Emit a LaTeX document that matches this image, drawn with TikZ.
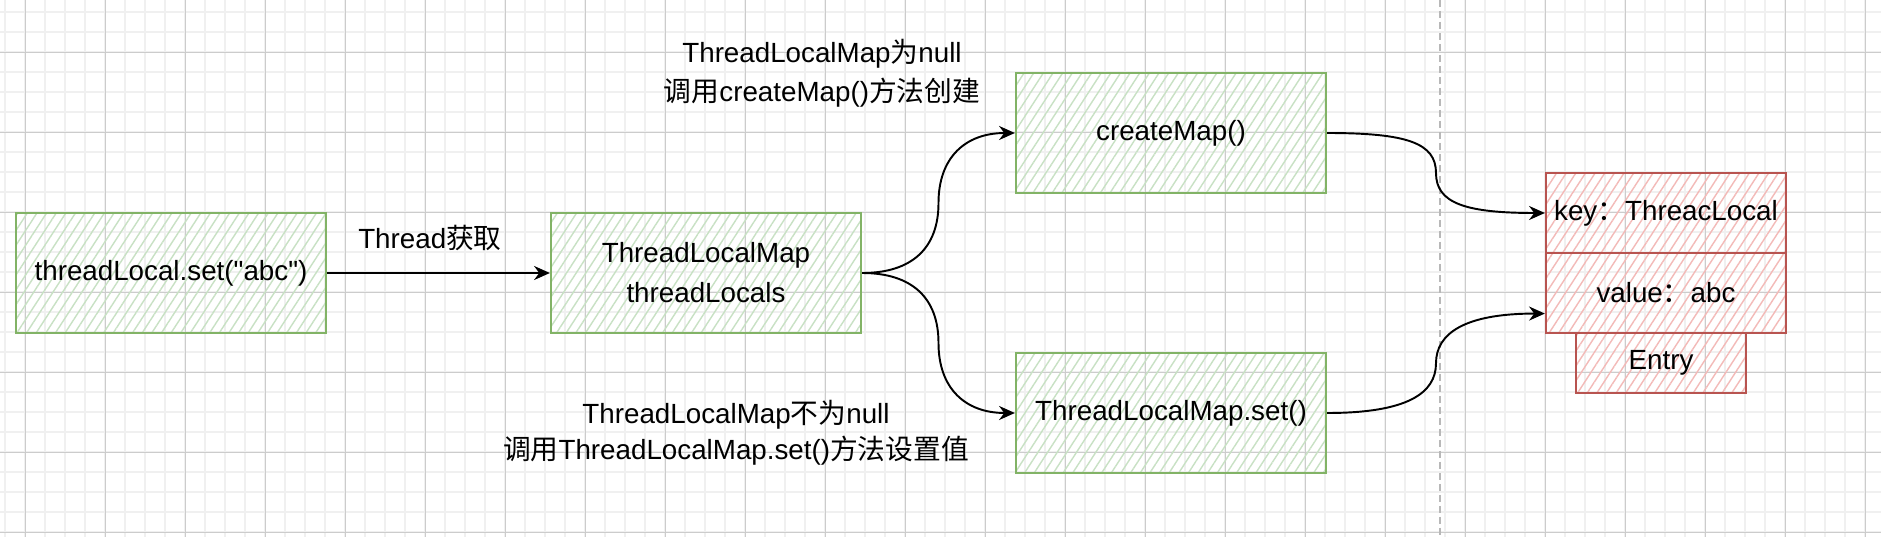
\documentclass[tikz,border=0pt]{standalone}
\usepackage{fontspec}
\setmainfont{Liberation Sans}
\newfontfamily\cjk{Noto Sans CJK SC}
\usetikzlibrary{arrows.meta,calc,patterns.meta}
\definecolor{greenline}{HTML}{82B366}
\definecolor{greenhatch}{HTML}{C8E1C4}
\definecolor{redline}{HTML}{B85450}
\definecolor{redhatch}{HTML}{F3BAB8}

\begin{document}
\begin{tikzpicture}[>={Stealth[length=9pt,width=8pt]},font=\fontsize{15.8pt}{19.3pt}\selectfont,x=0.02cm,y=-0.02cm,
 gbox/.style={draw=greenline,line width=1.3pt,align=center,inner sep=0pt,
  pattern={Lines[angle=57,distance=4.6pt,line width=0.8pt]},pattern color=greenhatch,
  minimum width=6.2cm,minimum height=2.4cm},
 rbox/.style={draw=redline,line width=1.3pt,align=center,inner sep=0pt,
  pattern={Lines[angle=57,distance=4.6pt,line width=0.8pt]},pattern color=redhatch,
  minimum width=4.8cm,minimum height=1.6cm},
 lab/.style={align=center,inner sep=1pt},
 minorgrid/.style={line width=0.85pt,black!6},
 majorgrid/.style={line width=0.5pt,black!20},
 link/.style={->,line width=1.1pt}]
\useasboundingbox (0,0) rectangle (1881,537);
\fill[white] (0,0) rectangle (1881,537);
% grid
\foreach \gx in {5,25,...,1881} \draw[minorgrid] (\gx,0) -- (\gx,537);
\foreach \gy in {12,32,...,537} \draw[minorgrid] (0,\gy) -- (1881,\gy);
\foreach \gx in {25,105,...,1881} \draw[majorgrid] (\gx,0) -- (\gx,537);
\foreach \gy in {52,132,...,537} \draw[majorgrid] (0,\gy) -- (1881,\gy);
\draw[line width=1.1pt,black!28,dash pattern=on 0.14cm off 0.08cm] (1440,0) -- (1440,537);
% boxes
\node[gbox] (setcall) at (171,273) {threadLocal.set(\textquotedbl abc\textquotedbl)};
\node[gbox] (tlm) at (706,273) {ThreadLocalMap\\[0.12cm]threadLocals};
\node[gbox] (cmap) at (1171,133) {createMap()};
\node[gbox] (tlmset) at (1171,413) {ThreadLocalMap.set()};
\node[rbox] (key) at (1666,213) {key{\cjk ：}ThreacLocal};
\node[rbox] (val) at (1666,293) {value{\cjk ：}abc};
\node[rbox,minimum width=3.4cm,minimum height=1.2cm] (entry) at (1661,363) {Entry};
% labels
\node[lab] (getlab) at (430,238) {Thread{\cjk 获取}};
\node[lab] (nulllab) at (822,73) {ThreadLocalMap{\cjk 为}null\\[0.1cm]{\cjk 调用}createMap(){\cjk 方法创建}};
\node[lab] (setlab) at (736,433) {ThreadLocalMap{\cjk 不为}null\\[0.05cm]{\cjk 调用}ThreadLocalMap.set(){\cjk 方法设置值}};
% connectors
\coordinate (valin) at ($(val.west)!.5!(val.south west)$);
\draw[link] (setcall) -- (tlm);
\draw[link] (tlm.east) .. controls +(50,0) and +(0,45) .. ($(tlm.east)!.5!(cmap.west)$)
 .. controls +(0,-45) and +(-50,0) .. (cmap.west);
\draw[link] (tlm.east) .. controls +(50,0) and +(0,-45) .. ($(tlm.east)!.5!(tlmset.west)$)
 .. controls +(0,45) and +(-50,0) .. (tlmset.west);
\draw[link] (cmap.east) .. controls +(80,0) and +(0,-30) .. ($(cmap.east)!.5!(key.west)$)
 .. controls +(0,30) and +(-80,0) .. (key.west);
\draw[link] (tlmset.east) .. controls +(80,0) and +(0,30) .. ($(tlmset.east)!.5!(valin)$)
 .. controls +(0,-30) and +(-80,0) .. (valin);
\end{tikzpicture}
\end{document}
